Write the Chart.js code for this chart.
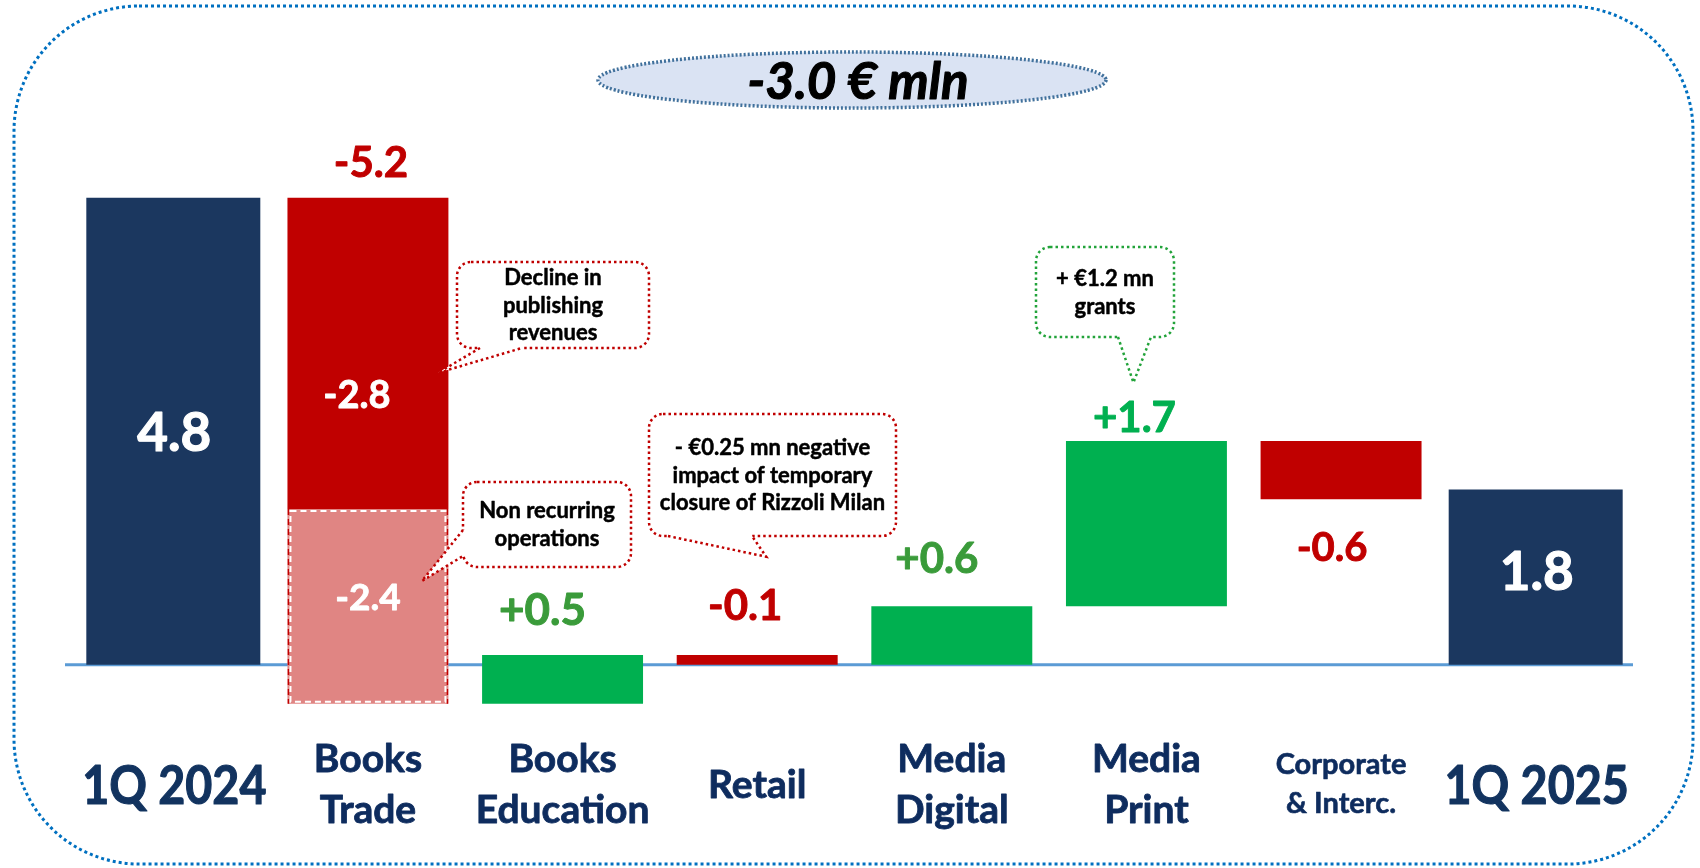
<!DOCTYPE html>
<html>
<head>
<meta charset="utf-8">
<title>EBITDA bridge 1Q 2024 - 1Q 2025</title>
<script src="https://cdn.jsdelivr.net/npm/chart.js@4.4.1/dist/chart.umd.min.js"></script>
<style>
  html, body { margin: 0; padding: 0; background: #fff; }
  #bridge { display: block; }
</style>
</head>
<body>
<canvas id="bridge" width="1700" height="868"></canvas>
<script>
// bridge data, € mln
const categories = [['1Q 2024'], ['Books', 'Trade'], ['Books', 'Education'], ['Retail'], ['Media', 'Digital'], ['Media', 'Print'], ['Corporate', '& Interc.'], ['1Q 2025']];
const totals = [4.8, null, null, null, null, null, null, 1.8];
// each step goes from the level before to the level after
const stepFrom = [null, 4.8, -0.4, 0.1, 0.0, 0.6, 2.3, null];
const stepTo = [null, 1.6, 0.1, 0.0, 0.6, 2.3, 1.7, null];
// non recurring part of Books Trade
const oneOffFrom = [null, 1.6, null, null, null, null, null, null];
const oneOffTo = [null, -0.4, null, null, null, null, null, null];

const totalLabels = ['4.8', '', '', '', '', '', '', '1.8'];
const stepLabels = ['', '-5.2', '+0.5', '-0.1', '+0.6', '+1.7', '-0.6', ''];
const splitLabels = ['-2.8', '-2.4'];
const headline = '-3.0 € mln';

const notes = [
  { lines: ['Decline in', 'publishing', 'revenues'], cat: 1, val: 3.0 },
  { lines: ['Non recurring', 'operations'], cat: 1, val: 0.86 },
  { lines: ['- €0.25 mn negative', 'impact of temporary', 'closure of Rizzoli Milan'], cat: 3, val: 1.11 },
  { lines: ['+ €1.2 mn', 'grants'], cat: 5, val: 2.9 }
];

// colours
const NAVY = '#1B375F';
const RED = '#C00000';
const GREEN = '#00B050';
const DARK_GREEN = '#3A9B3A';
const PINK = '#E08583';
const INK = '#0E2C5E';
const FONT = 'Lato, "Open Sans", sans-serif';
const CAP = 0.7165;

// label placement (px)
const stepLabelSide = ['', 'top', 'top', 'top', 'top', 'top', 'bottom', ''];
const stepLabelGap = [0, 36, 46, 50, 48, 24, 47, 0];
const stepLabelDx = [0, 3, -20, -12, -15, -12, -9, 0];
const stepLabelSize = [0, 42, 44, 42, 42, 42, 40, 0];
const stepLabelColor = ['', RED, DARK_GREEN, RED, DARK_GREEN, GREEN, RED, ''];

// callout boxes (px) : box, pointer base, tip offset from bar centre
const noteBoxes = [
  { box: [457, 262, 649, 348], base: [[480, 348], [522, 348]], dx: 70, color: RED },
  { box: [463, 482, 631, 567], base: [[463, 530], [463, 556]], dx: 54, color: RED },
  { box: [649, 414, 896, 536], base: [[668, 536], [752, 536]], dx: 9, color: RED },
  { box: [1036, 247, 1174, 337], base: [[1118, 337], [1151, 337]], dx: -13, color: '#22A33A' }
];

function drawText(c, str, x, cy, size, color, opts) {
  opts = opts || {};
  c.save();
  c.translate(x, cy + CAP * size / 2);
  c.scale(opts.sx || 1, 1);
  c.font = (opts.style || '') + ' bold ' + size + 'px ' + FONT;
  c.fillStyle = color;
  c.textAlign = 'center';
  c.textBaseline = 'alphabetic';
  c.fillText(str, 0, 0);
  // a touch heavier, closer to the original bold face
  c.strokeStyle = color;
  c.lineWidth = size * 0.022;
  c.lineJoin = 'round';
  c.strokeText(str, 0, 0);
  c.restore();
}

const frame = {
  id: 'frame',
  beforeDraw(chart) {
    const c = chart.ctx;
    c.save();
    c.fillStyle = '#fff';
    c.fillRect(0, 0, chart.width, chart.height);
    // dotted rounded frame
    c.strokeStyle = '#0070C0';
    c.lineWidth = 3;
    c.setLineDash([3, 3]);
    c.beginPath();
    c.roundRect(14, 6, 1679, 858, 125);
    c.stroke();
    // headline ellipse
    c.beginPath();
    c.ellipse(852, 80, 254, 28, 0, 0, Math.PI * 2);
    c.fillStyle = '#DAE3F3';
    c.fill();
    c.strokeStyle = '#41719C';
    c.lineWidth = 3.5;
    c.setLineDash([2, 2]);
    c.stroke();
    c.restore();
    drawText(c, headline, 858, 81, 51, '#000', { style: 'italic' });
  },
  beforeDatasetsDraw(chart) {
    const c = chart.ctx;
    const y0 = chart.scales.y.getPixelForValue(0);
    c.save();
    c.strokeStyle = '#5B9BD5';
    c.lineWidth = 3;
    c.beginPath();
    c.moveTo(chart.chartArea.left - 11, y0);
    c.lineTo(chart.chartArea.right, y0);
    c.stroke();
    c.restore();
  }
};

const labels = {
  id: 'labels',
  afterDatasetsDraw(chart) {
    const c = chart.ctx;
    const xs = chart.scales.x;
    const ys = chart.scales.y;
    const tot = chart.getDatasetMeta(0).data;
    const stp = chart.getDatasetMeta(1).data;
    const one = chart.getDatasetMeta(2).data;

    // dashed outline of the non recurring block
    one.forEach((b, i) => {
      if (oneOffFrom[i] === null) return;
      const top = Math.min(b.y, b.base), bot = Math.max(b.y, b.base);
      const l = b.x - b.width / 2, r = b.x + b.width / 2;
      c.save();
      c.setLineDash([6, 4]);
      c.strokeStyle = RED;
      c.lineWidth = 1.5;
      c.beginPath();
      c.moveTo(l + 1, top); c.lineTo(l + 1, bot);
      c.moveTo(r - 1, top); c.lineTo(r - 1, bot);
      c.stroke();
      c.strokeStyle = '#fff';
      c.lineWidth = 2;
      c.strokeRect(l + 3, top + 2, b.width - 6, bot - top - 4);
      c.restore();
    });

    // totals
    tot.forEach((b, i) => {
      if (totals[i] === null) return;
      const mid = (b.y + b.base) / 2 + (i === 0 ? 1 : -6);
      drawText(c, totalLabels[i], b.x + 1, mid, 53, '#fff');
    });

    // steps
    stp.forEach((b, i) => {
      if (stepFrom[i] === null) return;
      const top = Math.min(b.y, b.base), bot = Math.max(b.y, b.base);
      const cy = stepLabelSide[i] === 'top' ? top - stepLabelGap[i] : bot + stepLabelGap[i];
      drawText(c, stepLabels[i], b.x + stepLabelDx[i], cy, stepLabelSize[i], stepLabelColor[i]);
      if (i === 1) drawText(c, splitLabels[0], b.x - 11, (top + bot) / 2 + 41, 38, '#fff');
    });
    one.forEach((b, i) => {
      if (oneOffFrom[i] === null) return;
      drawText(c, splitLabels[1], b.x, (b.y + b.base) / 2 - 10, 37, '#fff');
    });

    // callouts
    notes.forEach((n, k) => {
      const s = noteBoxes[k];
      const tip = [xs.getPixelForValue(n.cat) + s.dx, ys.getPixelForValue(n.val)];
      const [x0, y0, x1, y1] = s.box;
      c.save();
      c.beginPath();
      c.roundRect(x0, y0, x1 - x0, y1 - y0, 14);
      c.fillStyle = '#fff';
      c.fill();
      c.strokeStyle = s.color;
      c.lineWidth = 2.5;
      c.setLineDash([2.5, 3]);
      c.stroke();
      // pointer
      c.beginPath();
      c.moveTo(s.base[0][0], s.base[0][1]);
      c.lineTo(tip[0], tip[1]);
      c.lineTo(s.base[1][0], s.base[1][1]);
      c.closePath();
      c.fill();
      c.setLineDash([]);
      c.strokeStyle = '#fff';
      c.lineWidth = 4;
      c.beginPath();
      c.moveTo(s.base[0][0], s.base[0][1]);
      c.lineTo(s.base[1][0], s.base[1][1]);
      c.stroke();
      c.setLineDash([2.5, 3]);
      c.strokeStyle = s.color;
      c.lineWidth = 2.5;
      c.beginPath();
      c.moveTo(s.base[0][0], s.base[0][1]);
      c.lineTo(tip[0], tip[1]);
      c.lineTo(s.base[1][0], s.base[1][1]);
      c.stroke();
      c.restore();
      const cy = (y0 + y1) / 2;
      const lh = n.lines.length === 3 ? 27.5 : 28;
      n.lines.forEach((t, j) => {
        drawText(c, t, (x0 + x1) / 2, cy + (j - (n.lines.length - 1) / 2) * lh, 22, '#000');
      });
    });

    // category labels
    categories.forEach((lines, i) => {
      const x = xs.getPixelForValue(i);
      if (i === 0 || i === categories.length - 1) {
        drawText(c, lines[0], x + 1, 785, 53, '#12335F', { sx: 0.88 });
      } else if (lines.length === 1) {
        drawText(c, lines[0], x, 784, 39, INK);
      } else if (lines[0] === 'Corporate') {
        drawText(c, lines[0], x, 764, 29, INK);
        drawText(c, lines[1], x, 803, 29, INK);
      } else {
        drawText(c, lines[0], x, 758, 39, INK);
        drawText(c, lines[1], x, 809, 39, INK);
      }
    });
  }
};

const ctx = document.getElementById('bridge').getContext('2d');
const bridgeChart = new Chart(ctx, {
  type: 'bar',
  data: {
    labels: categories,
    datasets: [{
      label: 'Total',
      data: totals,
      backgroundColor: NAVY,
      barPercentage: 0.894,
      categoryPercentage: 1
    }, {
      label: 'Change',
      data: stepFrom.map((v, i) => v === null ? null : [v, stepTo[i]]),
      backgroundColor: stepFrom.map((v, i) => v !== null && stepTo[i] < v ? RED : GREEN),
      barPercentage: 0.827,
      categoryPercentage: 1
    }, {
      label: 'Non recurring',
      data: oneOffFrom.map((v, i) => v === null ? null : [v, oneOffTo[i]]),
      backgroundColor: PINK,
      barPercentage: 0.827,
      categoryPercentage: 1
    }]
  },
  options: {
    responsive: false,
    animation: false,
    layout: { padding: { left: 76, right: 67, top: 81, bottom: 106 } },
    datasets: { bar: { grouped: false } },
    plugins: {
      legend: { display: false },
      tooltip: { enabled: false }
    },
    scales: {
      x: { display: false },
      y: { display: false, min: -1, max: 6 }
    }
  },
  plugins: [frame, labels]
});
</script>
</body>
</html>
